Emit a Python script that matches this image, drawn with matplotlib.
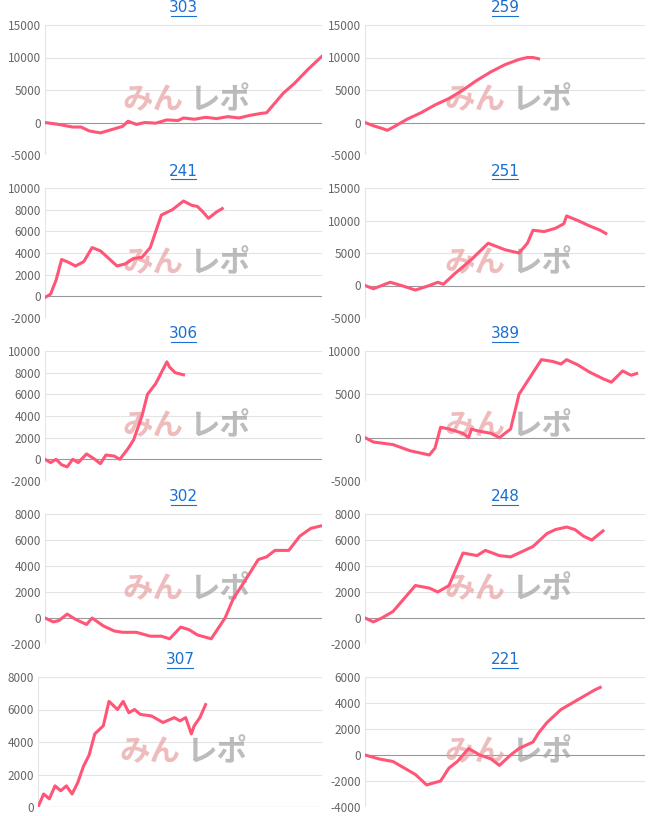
import matplotlib.pyplot as plt

plt.rcParams['font.family'] = ['Noto Sans CJK JP', 'DejaVu Sans']

titles = ["303", "259", "241", "251", "306", "389", "302", "248", "307", "221"]
ylims = [(-5000, 15000), (-5000, 15000), (-2000, 10000), (-5000, 15000), (-2000, 10000),
         (-5000, 10000), (-2000, 8000), (-2000, 8000), (0, 8000), (-4000, 6000)]
ysteps = [5000, 5000, 2000, 5000, 2000, 5000, 2000, 2000, 2000, 2000]

xs = [
    [0, 5, 10, 13, 16, 20, 24, 28, 30, 33, 36, 40, 44, 48, 50, 54, 58, 62, 66, 70, 74, 78, 80, 83, 86, 90, 95, 100],
    [0, 3, 6, 8, 11, 15, 20, 25, 30, 35, 40, 45, 50, 55, 58, 60, 62],
    [0, 2, 4, 6, 8, 11, 14, 17, 20, 23, 26, 29, 32, 35, 38, 42, 46, 50, 53, 55, 57, 59, 62, 64],
    [0, 3, 6, 9, 13, 18, 23, 26, 28, 32, 38, 44, 50, 55, 58, 60, 64, 68, 71, 72, 76, 80, 84, 86],
    [0, 2, 4, 6, 8, 10, 12, 15, 18, 20, 22, 25, 27, 30, 32, 35, 37, 40, 42, 44, 45, 47, 50],
    [0, 3, 10, 16, 23, 25, 27, 30, 35, 37, 38, 40, 45, 48, 52, 55, 58, 63, 67, 70, 72, 76, 80, 85, 88, 92, 95, 97],
    [0, 3, 5, 8, 11, 15, 17, 21, 25, 28, 33, 38, 42, 45, 49, 52, 55, 60, 65, 68, 72, 77, 80, 83, 88, 92, 96, 100],
    [0, 3, 6, 10, 14, 18, 23, 26, 30, 35, 40, 43, 48, 52, 55, 60, 65, 68, 72, 75, 78, 81, 85],
    [0, 2, 4, 6, 8, 10, 12, 14, 16, 18, 20, 23, 25, 28, 30, 32, 34, 36, 40, 44, 48, 50, 52, 54, 55, 57, 59],
    [0, 5, 10, 14, 18, 22, 27, 30, 33, 37, 41, 45, 48, 52, 55, 60, 62, 65, 70, 74, 78, 82, 84],
]
ys = [
    [0, -300, -700, -700, -1300, -1600, -1100, -600, 200, -300, 0, -100, 400, 300, 700, 500, 800, 600, 900, 700, 1100, 1400, 1500, 3000, 4500, 6000, 8200, 10200],
    [0, -500, -900, -1200, -500, 500, 1500, 2700, 3700, 5000, 6500, 7800, 8900, 9700, 10000, 10000, 9800],
    [-100, 200, 1500, 3400, 3200, 2800, 3200, 4500, 4200, 3500, 2800, 3000, 3500, 3600, 4500, 7500, 8000, 8800, 8400, 8300, 7800, 7200, 7800, 8100],
    [0, -500, 0, 500, 0, -700, 0, 500, 200, 1800, 4000, 6500, 5500, 5000, 6500, 8500, 8300, 8800, 9500, 10700, 10000, 9200, 8500, 8000],
    [0, -300, 0, -500, -700, 0, -300, 500, 0, -400, 400, 300, 0, 1000, 1800, 4000, 6000, 7000, 8000, 9000, 8500, 8000, 7800],
    [0, -500, -800, -1500, -2000, -1200, 1200, 1000, 500, 0, 1000, 800, 500, 0, 1000, 5000, 6500, 9000, 8800, 8500, 9000, 8400, 7600, 6800, 6400, 7700, 7200, 7400],
    [0, -300, -200, 300, -100, -500, 0, -600, -1000, -1100, -1100, -1400, -1400, -1600, -700, -900, -1300, -1600, 0, 1500, 2800, 4500, 4700, 5200, 5200, 6300, 6900, 7100],
    [0, -300, 0, 500, 1500, 2500, 2300, 2000, 2500, 5000, 4800, 5200, 4800, 4700, 5000, 5500, 6500, 6800, 7000, 6800, 6300, 6000, 6700],
    [0, 800, 500, 1300, 1000, 1300, 800, 1500, 2500, 3200, 4500, 5000, 6500, 6000, 6500, 5800, 6000, 5700, 5600, 5200, 5500, 5300, 5500, 4500, 5000, 5500, 6300],
    [0, -300, -500, -1000, -1500, -2300, -2000, -1000, -500, 500, 0, -300, -800, 0, 500, 1000, 1700, 2500, 3500, 4000, 4500, 5000, 5200],
]

fig = plt.figure(figsize=(6.54, 8.16), dpi=100)
W, H = 654, 816
row_h = 163
for i in range(10):
    r, c = divmod(i, 2)
    left = 365 if c else (38 if i == 8 else 45)
    right = 645 if c else 322
    top = 25 + r * row_h
    bottom = 155 + r * row_h
    ax = fig.add_axes([left / W, 1 - bottom / H, (right - left) / W, (bottom - top) / H])
    lo, hi = ylims[i]
    ax.set_ylim(lo, hi)
    ax.set_xlim(0, 100)
    ticks = list(range(lo, hi + 1, ysteps[i]))
    ax.set_yticks(ticks)
    ax.set_yticklabels([str(t) for t in ticks], fontsize=8.5, color="#666666")
    ax.set_xticks([])
    for t in ticks:
        ax.axhline(t, color="#999999" if t == 0 else "#e4e4e4", lw=0.8, zorder=0)
    for s in ax.spines.values():
        s.set_visible(False)
    ax.axvline(0, color="#e4e4e4", lw=0.8, zorder=0)
    ax.tick_params(axis="y", length=0, pad=3)
    ax.text(0.5, 0.42, "みん", transform=ax.transAxes, ha="right", va="center",
            fontsize=22, fontweight="bold", style="italic", color="#e8a0a0", alpha=0.7, zorder=1)
    ax.text(0.52, 0.42, "レポ", transform=ax.transAxes, ha="left", va="center",
            fontsize=22, fontweight="bold", style="italic", color="#a0a0a0", alpha=0.7, zorder=1)
    ax.plot(xs[i], ys[i], color="#ff5577", lw=2.2, zorder=3)
    fig.text((right + left) / 2 / W, 1 - (8 + r * row_h) / H, titles[i], ha="center", va="center",
             fontsize=11, color="#1a6fd0", family="DejaVu Sans")
    fig.add_artist(plt.Line2D([((right + left) / 2 - 13) / W, ((right + left) / 2 + 13) / W],
                              [1 - (16 + r * row_h) / H] * 2, color="#1a6fd0", lw=0.8))

fig.savefig("out.png", dpi=100)
